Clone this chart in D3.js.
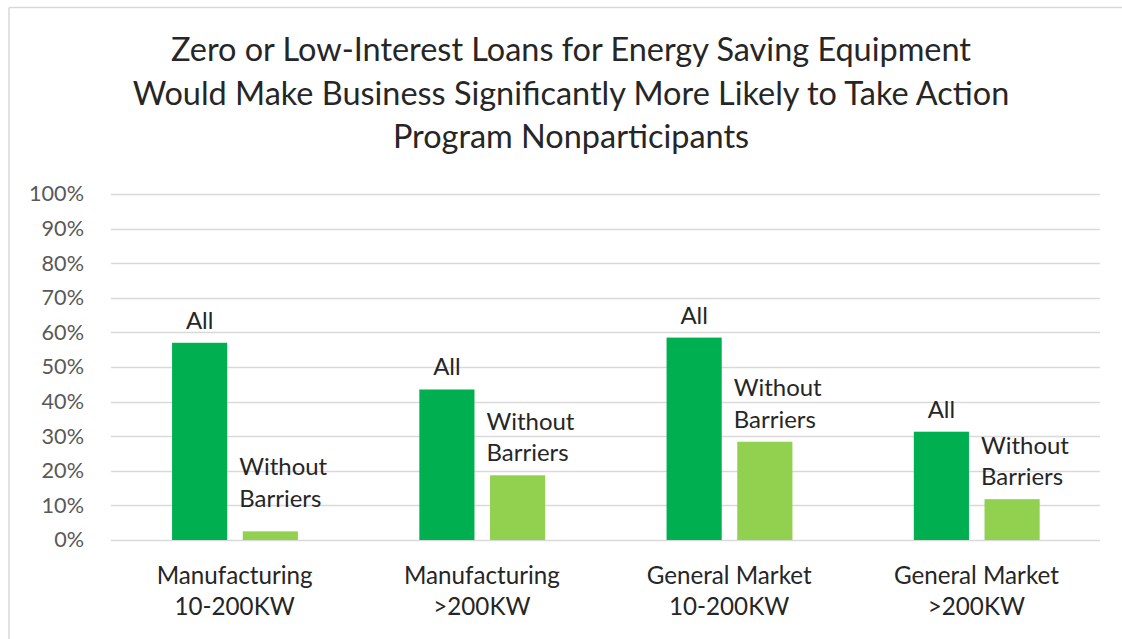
<!DOCTYPE html>
<html><head><meta charset="utf-8">
<script src="https://cdn.jsdelivr.net/npm/d3@7"></script>
<style>body{margin:0;background:#fff}svg{display:block}text{font-family:Lato,"Open Sans",sans-serif}</style>
</head><body><svg id="c" width="1122" height="639"></svg>
<script>
const titleLines = ["Zero or Low-Interest Loans for Energy Saving Equipment","Would Make Business Significantly More Likely to Take Action","Program Nonparticipants"];
const categories = ["Manufacturing 10-200KW","Manufacturing >200KW","General Market 10-200KW","General Market >200KW"];
const categoryLines = [["Manufacturing","10-200KW"],["Manufacturing",">200KW"],["General Market","10-200KW"],["General Market",">200KW"]];
const seriesNames = ["All","Without Barriers"];
const seriesLabelLines = [["All"],["Without","Barriers"]];
const allValues = [0.57, 0.435, 0.585, 0.313];
const withoutValues = [0.025, 0.187, 0.284, 0.118];
const yTicks = [0,0.1,0.2,0.3,0.4,0.5,0.6,0.7,0.8,0.9,1.0];
const colors = ["#00B050","#92D050"];

const svg = d3.select("#c");
// chart frame (only top and left edges are visible in the crop)
svg.append("line").attr("x1",9).attr("x2",1122).attr("y1",7.5).attr("y2",7.5).attr("stroke","#d9d9d9").attr("stroke-width",1.5);
svg.append("line").attr("x1",9).attr("x2",9).attr("y1",7.5).attr("y2",639).attr("stroke","#d9d9d9").attr("stroke-width",1.5);

const plot = {left:111,right:1100,top:194,bottom:540};
const y = d3.scaleLinear().domain([0,1]).range([plot.bottom,plot.top]);
const x0 = d3.scaleBand().domain(categories).range([plot.left,plot.right]).padding(0);
const bw = x0.bandwidth();
const x1 = d3.scaleBand().domain(seriesNames).range([bw*0.247,bw*0.756]).paddingInner(0.22);

// gridlines
svg.append("g").selectAll("line").data(yTicks).join("line")
  .attr("x1",plot.left).attr("x2",plot.right)
  .attr("y1",d=>Math.round(y(d))+0.5).attr("y2",d=>Math.round(y(d))+0.5)
  .attr("stroke","#d9d9d9").attr("stroke-width",1.3);

// y axis labels
const yAxis = d3.axisLeft(y).tickValues(yTicks).tickFormat(d3.format(".0%")).tickSize(0).tickPadding(0);
const ya = svg.append("g").attr("transform","translate(84,0)").call(yAxis);
ya.select(".domain").remove();
ya.selectAll("text").attr("font-size",17).attr("fill","#595959").attr("font-family","Lato,'Open Sans',sans-serif");
{ const t = ya.selectAll("text").filter(d=>d===1); const w=t.node().getComputedTextLength(); ya.selectAll("text").attr("font-size",17*55/w); }

// bars
const data = categories.map((c,i)=>({c, vals:[{s:seriesNames[0],v:allValues[i],k:0},{s:seriesNames[1],v:withoutValues[i],k:1}]}));
const g = svg.append("g").selectAll("g").data(data).join("g").attr("transform",d=>`translate(${x0(d.c)},0)`);
g.selectAll("rect").data(d=>d.vals).join("rect")
  .attr("x",d=>x1(d.s)).attr("width",x1.bandwidth())
  .attr("y",d=>y(d.v)).attr("height",d=>y(0)-y(d.v))
  .attr("fill",d=>colors[d.k]);

// data labels
const lab = g.selectAll("text.dl").data(d=>d.vals).join("text").attr("class","dl")
  .attr("font-size",19).attr("fill","#262626")
  .attr("text-anchor",d=>d.k===0?"middle":"start")
  .attr("x",d=>d.k===0?x1(d.s)+x1.bandwidth()/2:x1(d.s)-3.5)
  .attr("y",d=>Math.min(y(d.v)-14, y(0.1)+1.5));
lab.each(function(d){
  const t=d3.select(this); const lines=seriesLabelLines[d.k];
  lines.forEach((ln,j)=>{t.append("tspan").attr("x",t.attr("x")).attr("dy",j===0?-(lines.length-1)*31.5:31.5).text(ln);});
});
{ const t=svg.selectAll("text.dl").filter(d=>d.k===1); const w=t.node().firstChild.getComputedTextLength(); svg.selectAll("text.dl").attr("font-size",19*88/w); }

// category labels
const cl = svg.append("g").selectAll("text").data(categories).join("text")
  .attr("class","cl").attr("font-size",19).attr("fill","#262626").attr("text-anchor","middle")
  .attr("x",d=>x0(d)+bw/2).attr("y",584);
cl.each(function(d,i){
  const t=d3.select(this);
  categoryLines[i].forEach((ln,j)=>t.append("tspan").attr("x",x0(d)+bw/2).attr("dy",j===0?0:31).text(ln));
});
{ const n=cl.node().firstChild; const w=n.getComputedTextLength(); cl.attr("font-size",19*156/w); }

// title
const tt = svg.append("g").selectAll("text").data(titleLines).join("text")
  .attr("x",571).attr("y",(d,i)=>61+i*43.5).attr("text-anchor","middle")
  .attr("font-size",27).attr("fill","#262626").text(d=>d);
{ const n=tt.filter((d,i)=>i===1).node(); const w=n.getComputedTextLength(); tt.attr("font-size",27*877/w); }
</script></body></html>
